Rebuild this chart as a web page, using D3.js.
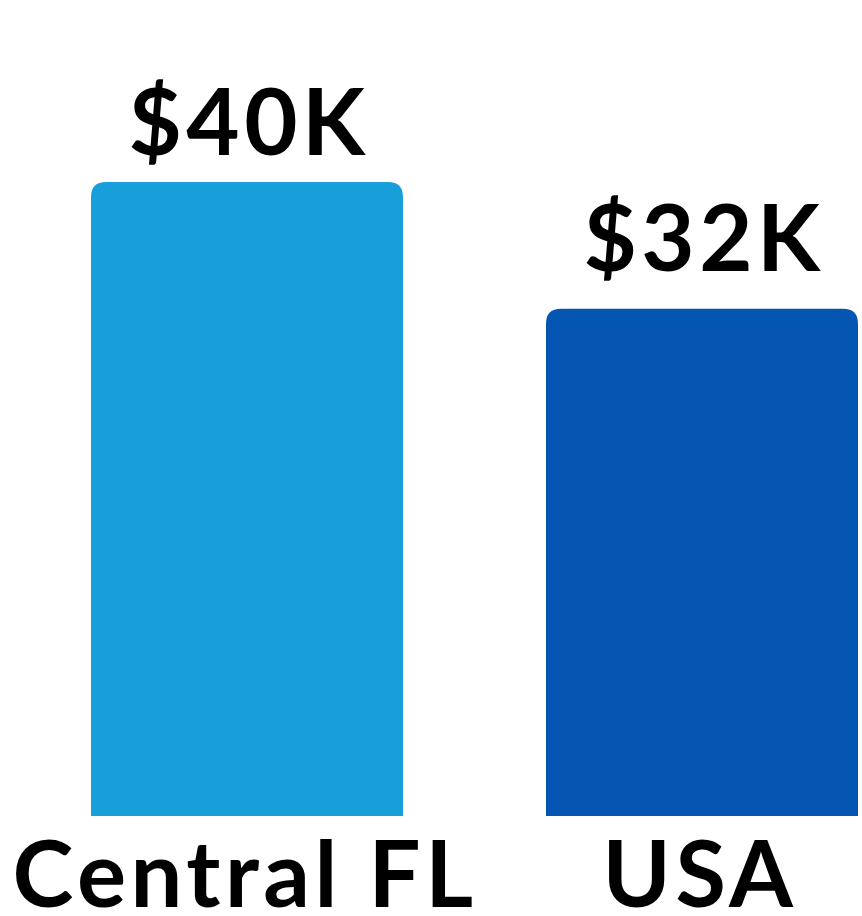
<!DOCTYPE html>
<html>
<head>
<meta charset="utf-8">
<script src="https://cdn.jsdelivr.net/npm/d3@7"></script>
<style>
  body { margin: 0; background: #fff; }
  text { font-family: Lato, "Open Sans", sans-serif; font-weight: 700; fill: #000; letter-spacing: 4.5px; }
</style>
</head>
<body>
<div id="chart"></div>
<script>
// data
var categories = ["Central FL", "USA"];
var values = [40, 32];            // thousands of dollars
var valueLabels = ["$40K", "$32K"];
var colors = ["#189fda", "#0456b2"];

var width = 862, height = 916;
var svg = d3.select("#chart").append("svg")
    .attr("width", width)
    .attr("height", height);

var x = d3.scaleBand()
    .domain(categories)
    .range([91, 858])
    .paddingInner(143 / 455)
    .paddingOuter(0);

var y = d3.scaleLinear()
    .domain([0, 40])
    .range([816, 182]);

var r = 15;
// rounded top corners only
function barPath(d, i) {
  var x0 = x(categories[i]), x1 = x0 + x.bandwidth(),
      y0 = y(d), y1 = y(0);
  return "M" + x0 + "," + y1 +
         "V" + (y0 + r) +
         "Q" + x0 + "," + y0 + " " + (x0 + r) + "," + y0 +
         "H" + (x1 - r) +
         "Q" + x1 + "," + y0 + " " + x1 + "," + (y0 + r) +
         "V" + y1 + "Z";
}

svg.selectAll(".bar")
    .data(values)
    .enter().append("path")
    .attr("class", "bar")
    .attr("d", barPath)
    .attr("fill", function(d, i) { return colors[i]; });

//value labels above bars
var labelGap = [27, 38];
svg.selectAll(".value")
    .data(values)
    .enter().append("text")
    .attr("class", "value")
    .attr("x", function(d, i) { return x(categories[i]) + x.bandwidth() / 2 + 2; })
    .attr("y", function(d, i) { return y(d) - labelGap[i]; })
    .attr("text-anchor", "middle")
    .style("font-size", "92px")
    .text(function(d, i) { return valueLabels[i]; });

// category labels under bars
svg.selectAll(".cat")
    .data(categories)
    .enter().append("text")
    .attr("class", "cat")
    .attr("x", function(d) { return x(d) + x.bandwidth() / 2 - 2; })
    .attr("y", 907)
    .attr("text-anchor", "middle")
    .style("font-size", "92px")
    .text(function(d) { return d; });
</script>
</body>
</html>
